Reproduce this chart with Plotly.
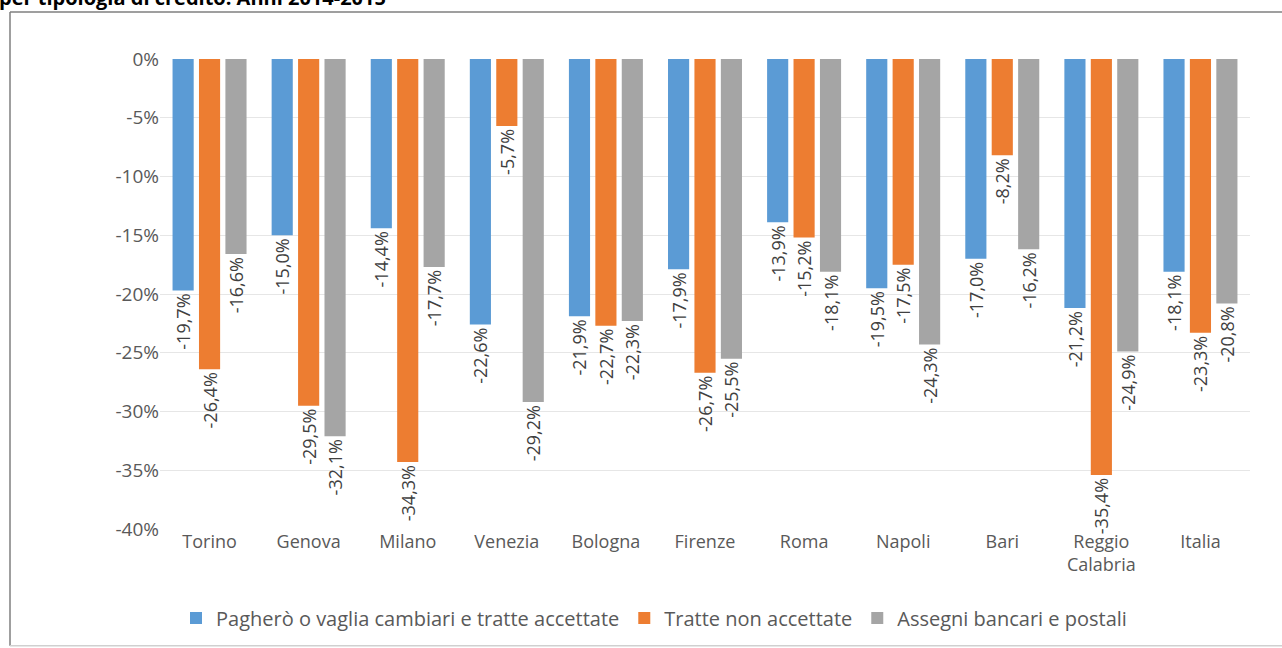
import plotly.graph_objects as go

# data (variazione % 2014-2015)
cities = ["Torino", "Genova", "Milano", "Venezia", "Bologna", "Firenze",
          "Roma", "Napoli", "Bari", "Reggio<br>Calabria", "Italia"]
paghero = [-19.7, -15.0, -14.4, -22.6, -21.9, -17.9, -13.9, -19.5, -17.0, -21.2, -18.1]
tratte = [-26.4, -29.5, -34.3, -5.7, -22.7, -26.7, -15.2, -17.5, -8.2, -35.4, -23.3]
assegni = [-16.6, -32.1, -17.7, -29.2, -22.3, -25.5, -18.1, -24.3, -16.2, -24.9, -20.8]

series_names = ["Pagherò o vaglia cambiari e tratte accettate",
                "Tratte non accettate",
                "Assegni bancari e postali"]
colors = ["#5B9BD5", "#ED7D31", "#A5A5A5"]

tick_vals = [0, -5, -10, -15, -20, -25, -30, -35, -40]
tick_labels = ["0%", "-5%", "-10%", "-15%", "-20%", "-25%", "-30%", "-35%", "-40%"]

title_text = "per tipologia di credito. Anni 2014-2015"

FONT = "Open Sans"


def lab(v):
    return f"{v:.1f}%".replace(".", ",")


fig = go.Figure()
for name, vals, col in zip(series_names, [paghero, tratte, assegni], colors):
    fig.add_trace(go.Bar(
        x=cities, y=vals, name=name,
        marker=dict(color=col, line=dict(width=0)),
        text=[lab(v) for v in vals],
        textposition="outside", textangle=-90,
        constraintext="none", cliponaxis=False,
        textfont=dict(family=FONT, size=18, color="#404040"),
    ))

# page margin is removed below, so these are window pixels
FW, FH = 1282, 648
L, R, T, B = 160, 32, 59, 118
W, H = FW - L - R, FH - T - B


def px_x(p):
    return (p - L) / W


def px_y(p):
    return (FH - B - p) / H


# frame of the chart: left, top and a faint bottom edge (right edge is off-page)
frame = [
    dict(x0=10, y0=12, x1=10, y1=647, color="#7F7F7F"),
    dict(x0=10, y0=12, x1=1282, y1=12, color="#7F7F7F"),
    dict(x0=10, y0=647, x1=1282, y1=647, color="#D0D0D0"),
]
shapes = [dict(type="line", xref="paper", yref="paper",
               x0=px_x(f["x0"]), x1=px_x(f["x1"]), y0=px_y(f["y0"]), y1=px_y(f["y1"]),
               line=dict(color=f["color"], width=1.5), layer="below")
          for f in frame]

fig.update_layout(
    width=FW, height=FH,
    margin=dict(l=L, r=R, t=T, b=B),
    paper_bgcolor="white", plot_bgcolor="white",
    barmode="group", bargap=0.2, bargroupgap=0.2,
    font=dict(family=FONT, size=18, color="#595959"),
    showlegend=True,
    legend=dict(orientation="h", x=px_x(654), xanchor="center",
                y=px_y(618), yanchor="middle",
                font=dict(family=FONT, size=20, color="#595959"),
                itemwidth=30, traceorder="normal"),
    xaxis=dict(showline=False, ticks="", showgrid=False,
               tickfont=dict(family=FONT, size=18, color="#595959")),
    yaxis=dict(range=[-40, 0], tickvals=tick_vals, ticktext=tick_labels,
               showgrid=True, gridcolor="#E6E6E6", gridwidth=1,
               zeroline=False, showline=False, ticks="",
               tickfont=dict(family=FONT, size=19, color="#595959")),
    shapes=shapes,
    annotations=[dict(text="<b>" + title_text + "</b>", xref="paper", yref="paper",
                      x=px_x(-3), xanchor="left", y=px_y(13), yanchor="bottom",
                      showarrow=False,
                      font=dict(family=FONT, size=20, color="#000000"))],
)

fig.write_html("out.html", config={"displayModeBar": False},
               post_script="document.body.style.margin='0';"
                           "document.body.style.overflow='hidden';")
